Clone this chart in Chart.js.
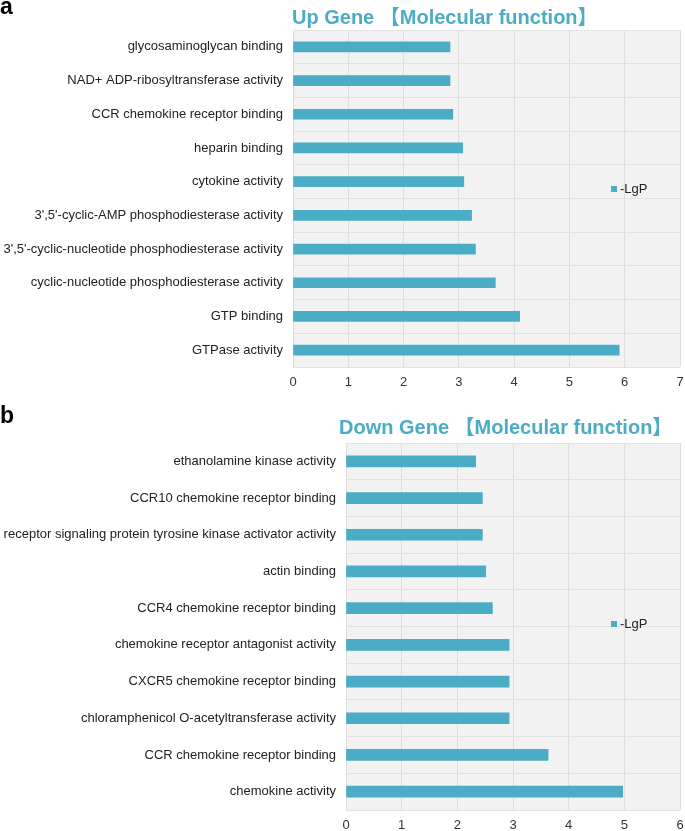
<!DOCTYPE html>
<html>
<head>
<meta charset="utf-8">
<script src="https://cdn.jsdelivr.net/npm/chart.js@4.4.1/dist/chart.umd.min.js"></script>
<style>
  html, body { margin: 0; padding: 0; background: #ffffff; }
  #wrap { position: relative; width: 685px; height: 831px; overflow: hidden; font-family: "Liberation Sans", Arial, sans-serif; }
  canvas { position: absolute; left: 0; }
  .panel { position: absolute; font-weight: bold; font-size: 23px; line-height: 1; color: #000; }
  .title { position: absolute; font-weight: bold; font-size: 20px; color: #4bacc6; white-space: nowrap; font-family: "Liberation Sans", "Noto Sans CJK SC", sans-serif; }
</style>
</head>
<body>
<div id="wrap">
  <canvas id="chartA" width="685" height="400" style="top:0;"></canvas>
  <canvas id="chartB" width="685" height="431" style="top:400px;"></canvas>
  <div class="panel" style="left:0px; top:-5px;">a</div>
  <div class="title" id="titleA" style="left:292px; top:1px;">Up Gene 【Molecular function】</div>
  <div class="panel" style="left:0px; top:404px;">b</div>
  <div class="title" id="titleB" style="left:339px; top:411px;">Down Gene 【Molecular function】</div>
</div>
<script>
// ---- Data ----
const upCategories = [
  "glycosaminoglycan binding",
  "NAD+ ADP-ribosyltransferase activity",
  "CCR chemokine receptor binding",
  "heparin binding",
  "cytokine activity",
  "3',5'-cyclic-AMP phosphodiesterase activity",
  "3',5'-cyclic-nucleotide phosphodiesterase activity",
  "cyclic-nucleotide phosphodiesterase activity",
  "GTP binding",
  "GTPase activity"
];
const upValues = [2.84, 2.84, 2.89, 3.07, 3.09, 3.23, 3.30, 3.66, 4.10, 5.90];

const downCategories = [
  "ethanolamine kinase activity",
  "CCR10 chemokine receptor binding",
  "receptor signaling protein tyrosine kinase activator activity",
  "actin binding",
  "CCR4 chemokine receptor binding",
  "chemokine receptor antagonist activity",
  "CXCR5 chemokine receptor binding",
  "chloramphenicol O-acetyltransferase activity",
  "CCR chemokine receptor binding",
  "chemokine activity"
];
const downValues = [2.33, 2.45, 2.45, 2.51, 2.63, 2.93, 2.93, 2.93, 3.63, 4.97];

const upTicks = [0, 1, 2, 3, 4, 5, 6, 7];
const downTicks = [0, 1, 2, 3, 4, 5, 6];
const seriesLabel = "-LgP";

// ---- Plugins ----
function makeHatch() {
  const c = document.createElement('canvas');
  c.width = 4; c.height = 4;
  const g = c.getContext('2d');
  g.fillStyle = '#f4f4f4';
  g.fillRect(0, 0, 4, 4);
  g.fillStyle = '#ededed';
  for (let i = 0; i < 4; i++) g.fillRect(i, 3 - i, 1, 1);
  return c;
}
const hatchCanvas = makeHatch();
const bgPlugin = {
  id: 'plotBg',
  beforeDraw(chart) {
    const a = chart.chartArea, ctx = chart.ctx;
    ctx.save();
    ctx.fillStyle = ctx.createPattern(hatchCanvas, 'repeat');
    ctx.fillRect(a.left, a.top, a.right - a.left, a.bottom - a.top);
    ctx.restore();
  }
};
const legendPlugin = {
  id: 'innerLegend',
  afterDraw(chart, args, opts) {
    const ctx = chart.ctx;
    const ds = chart.data.datasets[0];
    ctx.save();
    ctx.fillStyle = ds.backgroundColor;
    ctx.fillRect(opts.x - 3, opts.y - 3, 6, 6);
    ctx.fillStyle = '#222';
    ctx.font = '13px "Liberation Sans", Arial, sans-serif';
    ctx.textBaseline = 'middle';
    ctx.textAlign = 'left';
    ctx.fillText(ds.label, opts.x + 6, opts.y + 0.5);
    ctx.restore();
  }
};

function makeChart(id, cats, vals, ticks, yWidth, xHeight, topPad, thickness, legendPos) {
  const maxV = ticks[ticks.length - 1];
  return new Chart(document.getElementById(id), {
    type: 'bar',
    data: {
      labels: cats,
      datasets: [{
        label: seriesLabel,
        data: vals,
        backgroundColor: '#4bacc6',
        borderWidth: 0,
        barThickness: thickness
      }]
    },
    options: {
      indexAxis: 'y',
      responsive: false,
      animation: false,
      devicePixelRatio: 1,
      layout: { padding: { left: 0, right: 5, top: topPad, bottom: 0 } },
      plugins: {
        legend: { display: false },
        tooltip: { enabled: false },
        innerLegend: legendPos
      },
      scales: {
        x: {
          type: 'linear',
          min: 0, max: maxV,
          afterBuildTicks(scale) { scale.ticks = ticks.map(v => ({ value: v })); },
          afterFit(scale) { scale.height = xHeight; },
          grid: { color: '#dedede', lineWidth: 1, drawTicks: true, tickLength: 7, tickColor: 'rgba(0,0,0,0)' },
          border: { display: false },
          ticks: {
            padding: 1,
            color: '#333',
            font: { size: 13, family: '"Liberation Sans", Arial, sans-serif' },
            maxRotation: 0
          }
        },
        y: {
          afterFit(scale) { scale.width = yWidth; },
          grid: { color: '#e2e2e2', lineWidth: 1, drawTicks: false, offset: true },
          border: { display: false },
          ticks: {
            padding: 10,
            color: '#222',
            font: { size: 13, family: '"Liberation Sans", Arial, sans-serif' },
            autoSkip: false
          }
        }
      }
    },
    plugins: [bgPlugin, legendPlugin]
  });
}

makeChart('chartA', upCategories, upValues, upTicks, 293, 33, 30, 10, { x: 614, y: 189 });
makeChart('chartB', downCategories, downValues, downTicks, 346, 21, 43, 11, { x: 614, y: 224 });
</script>
</body>
</html>
